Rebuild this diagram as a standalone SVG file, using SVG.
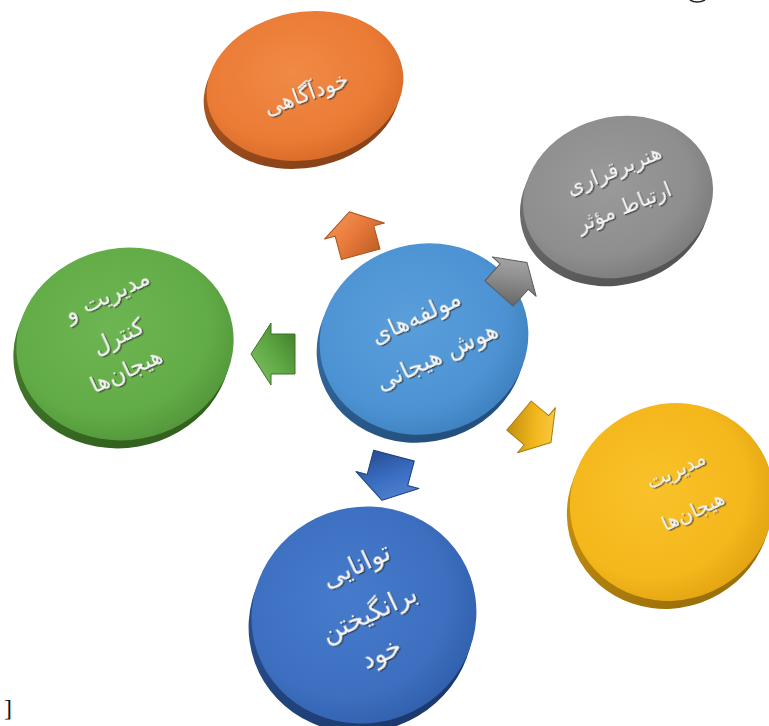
<svg xmlns="http://www.w3.org/2000/svg" width="769" height="726" viewBox="0 0 769 726">
<defs>
<style>
.t{font-family:"DejaVu Sans","Noto Sans",sans-serif;fill:#f7f7f7;text-anchor:middle;filter:url(#emb)}
.ar{stroke-width:1;stroke-linejoin:round}
</style>
<filter id="emb" x="-20%" y="-40%" width="140%" height="180%">
<feDropShadow dx="1" dy="1.5" stdDeviation="0.7" flood-color="#2a2a2a" flood-opacity="0.75"/>
</filter>
<path id="arrow" d="M0,-22 L31,-2 L20,-2 L20,22 L-20,22 L-20,-2 L-31,-2 Z"/>
<radialGradient id="fO" cx="45%" cy="40%" r="60%"><stop offset="0" stop-color="#F08A46"/><stop offset="0.75" stop-color="#EA7B35"/><stop offset="1" stop-color="#D96C2A"/></radialGradient>
<linearGradient id="sO" x1="0" y1="0" x2="0.3" y2="1"><stop offset="0" stop-color="#C0622A"/><stop offset="1" stop-color="#8A4318"/></linearGradient>
<radialGradient id="fG" cx="45%" cy="40%" r="60%"><stop offset="0" stop-color="#9A9A9A"/><stop offset="0.75" stop-color="#8E8E8E"/><stop offset="1" stop-color="#7E7E7E"/></radialGradient>
<linearGradient id="sG" x1="0" y1="0" x2="0.3" y2="1"><stop offset="0" stop-color="#7A7A7A"/><stop offset="1" stop-color="#555555"/></linearGradient>
<radialGradient id="fN" cx="45%" cy="40%" r="60%"><stop offset="0" stop-color="#6DB552"/><stop offset="0.75" stop-color="#62AC47"/><stop offset="1" stop-color="#55993C"/></radialGradient>
<linearGradient id="sN" x1="0" y1="0" x2="0.3" y2="1"><stop offset="0" stop-color="#4C8A34"/><stop offset="1" stop-color="#33621F"/></linearGradient>
<radialGradient id="fC" cx="45%" cy="40%" r="60%"><stop offset="0" stop-color="#5A9EDB"/><stop offset="0.75" stop-color="#4D93D3"/><stop offset="1" stop-color="#4083C2"/></radialGradient>
<linearGradient id="sC" x1="0" y1="0" x2="0.3" y2="1"><stop offset="0" stop-color="#3A74AC"/><stop offset="1" stop-color="#24507E"/></linearGradient>
<radialGradient id="fY" cx="45%" cy="40%" r="60%"><stop offset="0" stop-color="#F9C22A"/><stop offset="0.75" stop-color="#F4B71C"/><stop offset="1" stop-color="#E4A612"/></radialGradient>
<linearGradient id="sY" x1="0" y1="0" x2="0.3" y2="1"><stop offset="0" stop-color="#D19A10"/><stop offset="1" stop-color="#9C700A"/></linearGradient>
<radialGradient id="fB" cx="45%" cy="40%" r="60%"><stop offset="0" stop-color="#467BCB"/><stop offset="0.75" stop-color="#3D6FC0"/><stop offset="1" stop-color="#3262AF"/></radialGradient>
<linearGradient id="sB" x1="0" y1="0" x2="0.3" y2="1"><stop offset="0" stop-color="#2D5699"/><stop offset="1" stop-color="#1C3A6E"/></linearGradient>
<linearGradient id="aO" x1="0" y1="0" x2="1" y2="1"><stop offset="0" stop-color="#F49A5C"/><stop offset="0.5" stop-color="#E8793A"/><stop offset="1" stop-color="#B65A22"/></linearGradient>
<linearGradient id="aG" x1="0" y1="0" x2="1" y2="1"><stop offset="0" stop-color="#B5B5B5"/><stop offset="0.5" stop-color="#8E8E8E"/><stop offset="1" stop-color="#5E5E5E"/></linearGradient>
<linearGradient id="aN" x1="0" y1="0" x2="1" y2="1"><stop offset="0" stop-color="#86C46A"/><stop offset="0.5" stop-color="#5EA843"/><stop offset="1" stop-color="#3D7A29"/></linearGradient>
<linearGradient id="aY" x1="0" y1="0" x2="1" y2="1"><stop offset="0" stop-color="#FBD55A"/><stop offset="0.5" stop-color="#F2B71D"/><stop offset="1" stop-color="#B8850B"/></linearGradient>
<linearGradient id="aB" x1="0" y1="0" x2="1" y2="1"><stop offset="0" stop-color="#5E8CD6"/><stop offset="0.5" stop-color="#3B6EC2"/><stop offset="1" stop-color="#22488A"/></linearGradient>
</defs>
<rect width="769" height="726" fill="#ffffff"/>

<g id="node-self-awareness">
<ellipse cx="302" cy="94" rx="99" ry="74" transform="rotate(-10 302 94)" fill="url(#sO)"/>
<ellipse cx="305" cy="86" rx="99" ry="74" transform="rotate(-10 305 86)" fill="url(#fO)"/>
<text class="t" font-size="22" transform="translate(306,93) rotate(-20)" y="8">خودآگاهی</text>
</g>

<g id="node-communication">
<ellipse cx="615" cy="205" rx="96" ry="80" transform="rotate(-15 615 205)" fill="url(#sG)"/>
<ellipse cx="618" cy="197" rx="96" ry="80" transform="rotate(-15 618 197)" fill="url(#fG)"/>
<text class="t" font-size="21" transform="translate(614,170) rotate(-22)" y="7">هنربرقراری</text>
<text class="t" font-size="21" transform="translate(624,207) rotate(-22)" y="7">ارتباط مؤثر</text>
</g>

<g id="node-control">
<ellipse cx="122" cy="352" rx="109" ry="96" transform="rotate(-10 122 352)" fill="url(#sN)"/>
<ellipse cx="125" cy="344" rx="109" ry="96" transform="rotate(-10 125 344)" fill="url(#fN)"/>
<text class="t" font-size="23" transform="translate(107,295) rotate(-25)" y="8">مدیریت و</text>
<text class="t" font-size="23" transform="translate(118,336) rotate(-25)" y="8">کنترل</text>
<text class="t" font-size="23" transform="translate(126,370) rotate(-25)" y="8">هیجان&#8204;ها</text>
</g>

<g id="node-center">
<ellipse cx="421" cy="347" rx="105" ry="95" transform="rotate(-15 421 347)" fill="url(#sC)"/>
<ellipse cx="424" cy="339" rx="105" ry="95" transform="rotate(-15 424 339)" fill="url(#fC)"/>
<text class="t" font-size="24" transform="translate(416,317) rotate(-25)" y="8">مولفه&#8204;های</text>
<text class="t" font-size="24" transform="translate(437,356) rotate(-25)" y="8">هوش هیجانی</text>
</g>

<g id="node-emotion-management">
<ellipse cx="669" cy="510" rx="103" ry="98" transform="rotate(-25 669 510)" fill="url(#sY)"/>
<ellipse cx="672" cy="502" rx="103" ry="98" transform="rotate(-25 672 502)" fill="url(#fY)"/>
<text class="t" font-size="20" transform="translate(676,470) rotate(-25)" y="7">مدیریت</text>
<text class="t" font-size="20" transform="translate(693,511) rotate(-25)" y="7">هیجان&#8204;ها</text>
</g>

<g id="node-self-motivation">
<ellipse cx="361" cy="624" rx="113" ry="108" transform="rotate(-20 361 624)" fill="url(#sB)"/>
<ellipse cx="364" cy="615" rx="113" ry="108" transform="rotate(-20 364 615)" fill="url(#fB)"/>
<text class="t" font-size="26" transform="translate(356,565) rotate(-25)" y="9">توانایی</text>
<text class="t" font-size="26" transform="translate(369,613) rotate(-25)" y="9">برانگیختن</text>
<text class="t" font-size="26" transform="translate(381,653) rotate(-25)" y="9">خود</text>
</g>

<g id="connectors">
<use href="#arrow" class="ar" fill="url(#aO)" stroke="#A9521F" transform="translate(355,233) rotate(-15)"/>
<use href="#arrow" class="ar" fill="url(#aG)" stroke="#5A5A5A" transform="translate(513,278) rotate(42) scale(0.95)"/>
<use href="#arrow" class="ar" fill="url(#aN)" stroke="#3A7326" transform="translate(273,354) rotate(-90)"/>
<use href="#arrow" class="ar" fill="url(#aY)" stroke="#A77A0A" transform="translate(535,429) rotate(130) scale(0.95)"/>
<use href="#arrow" class="ar" fill="url(#aB)" stroke="#1F427F" transform="translate(388,478) rotate(195) scale(1.05)"/>
</g>

<path d="M690,0 Q697,4 705,0" fill="none" stroke="#222" stroke-width="1.5"/>
<text x="4" y="716" font-family="Liberation Serif, serif" font-size="24" fill="#111">]</text>
</svg>
